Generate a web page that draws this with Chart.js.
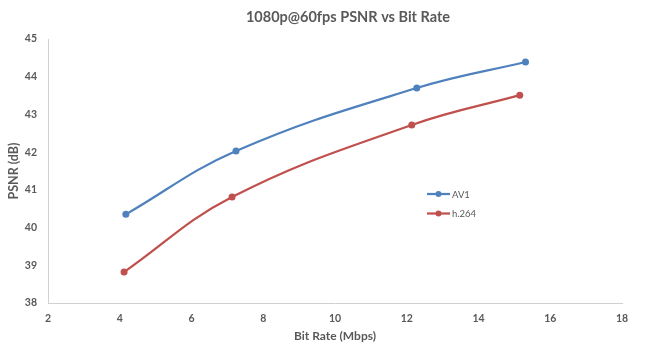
<!DOCTYPE html>
<html>
<head>
<meta charset="utf-8">
<script src="https://cdn.jsdelivr.net/npm/chart.js@4/dist/chart.umd.min.js"></script>
<style>
  html, body { margin: 0; padding: 0; background: #ffffff; }
  #wrap { width: 660px; height: 348px; }
</style>
</head>
<body>
<div id="wrap"><canvas id="c"></canvas></div>
<script>
// Chart text
const chartTitle = '1080p@60fps PSNR vs Bit Rate';
const xAxisTitle = 'Bit Rate (Mbps)';
const yAxisTitle = 'PSNR (dB)';
const seriesNames = ['AV1', 'h.264'];

// Measurements: bit rate (Mbps) and PSNR (dB)
const av1BitRate = [4.17, 7.24, 12.28, 15.31];
const av1Psnr = [40.35, 42.03, 43.70, 44.39];
const h264BitRate = [4.12, 7.13, 12.14, 15.15];
const h264Psnr = [38.82, 40.81, 42.72, 43.51];

// Axis ticks
const xTicks = [2, 4, 6, 8, 10, 12, 14, 16, 18];
const yTicks = [38, 39, 40, 41, 42, 43, 44, 45];

const seriesColors = ['#4f81bd', '#c0504d'];
const textColor = '#595959';
const fontFamily = "Lato, 'Liberation Sans', Arial, sans-serif";

const toPoints = (xs, ys) => xs.map((x, i) => ({ x: x, y: ys[i] }));

// Chart heading, placed slightly right of the canvas centre
const headingText = {
  id: 'headingText',
  afterDraw(chart, args, opts) {
    const ctx = chart.ctx;
    ctx.save();
    ctx.fillStyle = textColor;
    ctx.font = 'bold ' + opts.size + 'px ' + fontFamily;
    ctx.textAlign = 'center';
    ctx.textBaseline = 'middle';
    ctx.fillText(opts.text, opts.x, opts.y);
    ctx.restore();
  }
};

// Legend drawn inside the plot, with line + marker samples
const innerLegend = {
  id: 'innerLegend',
  afterDraw(chart, args, opts) {
    const ctx = chart.ctx;
    ctx.save();
    chart.data.datasets.forEach((ds, i) => {
      const y = opts.y + i * opts.rowGap;
      ctx.strokeStyle = ds.borderColor;
      ctx.lineWidth = 2.25;
      ctx.beginPath();
      ctx.moveTo(opts.x, y);
      ctx.lineTo(opts.x + opts.lineLen, y);
      ctx.stroke();
      ctx.fillStyle = ds.borderColor;
      ctx.beginPath();
      ctx.arc(opts.x + opts.lineLen / 2, y, 3, 0, Math.PI * 2);
      ctx.fill();
      ctx.fillStyle = textColor;
      ctx.font = '9.5px ' + fontFamily;
      ctx.textBaseline = 'middle';
      ctx.textAlign = 'left';
      ctx.fillText(ds.label, opts.x + opts.lineLen + 2, y + 0.5);
    });
    ctx.restore();
  }
};

new Chart(document.getElementById('c'), {
  type: 'scatter',
  data: {
    datasets: [
      {
        label: seriesNames[0],
        data: toPoints(av1BitRate, av1Psnr),
        borderColor: seriesColors[0],
        backgroundColor: seriesColors[0],
        showLine: true,
        tension: 0.4,
        borderWidth: 2.25,
        pointRadius: 3.5,
        pointBorderWidth: 0
      },
      {
        label: seriesNames[1],
        data: toPoints(h264BitRate, h264Psnr),
        borderColor: seriesColors[1],
        backgroundColor: seriesColors[1],
        showLine: true,
        tension: 0.4,
        borderWidth: 2.25,
        pointRadius: 3.5,
        pointBorderWidth: 0
      }
    ]
  },
  options: {
    responsive: true,
    maintainAspectRatio: false,
    animation: false,
    devicePixelRatio: 1,
    layout: { padding: { left: 0, right: 38, top: 39, bottom: 0 } },
    plugins: {
      legend: { display: false },
      tooltip: { enabled: false },
      title: { display: false },
      headingText: { text: chartTitle, x: 348, y: 17, size: 14.5 },
      innerLegend: { x: 427, y: 194, rowGap: 19.5, lineLen: 23 }
    },
    scales: {
      x: {
        type: 'linear',
        min: xTicks[0],
        max: xTicks[xTicks.length - 1],
        afterBuildTicks: s => { s.ticks = xTicks.map(v => ({ value: v })); },
        afterFit: s => { s.height = 45; },
        grid: { display: false, drawTicks: false },
        border: { display: true, color: '#d0d0d0', width: 1 },
        ticks: {
          color: textColor,
          padding: 9,
          maxRotation: 0,
          font: { family: fontFamily, size: 10.5, weight: 'bold' }
        },
        title: {
          display: true,
          text: xAxisTitle,
          color: textColor,
          padding: { top: 4, bottom: 5 },
          font: { family: fontFamily, size: 12, weight: 'bold' }
        }
      },
      y: {
        type: 'linear',
        min: yTicks[0],
        max: yTicks[yTicks.length - 1],
        afterBuildTicks: s => { s.ticks = yTicks.map(v => ({ value: v })); },
        afterFit: s => { s.width = 48; },
        grid: { display: false, drawTicks: false },
        border: { display: true, color: '#d0d0d0', width: 1 },
        ticks: {
          color: textColor,
          padding: 11,
          font: { family: fontFamily, size: 10.5, weight: 'bold' }
        },
        title: {
          display: true,
          text: yAxisTitle,
          color: textColor,
          padding: { top: 6, bottom: 0 },
          font: { family: fontFamily, size: 12.5, weight: 'bold' }
        }
      }
    }
  },
  plugins: [headingText, innerLegend]
});
</script>
</body>
</html>
